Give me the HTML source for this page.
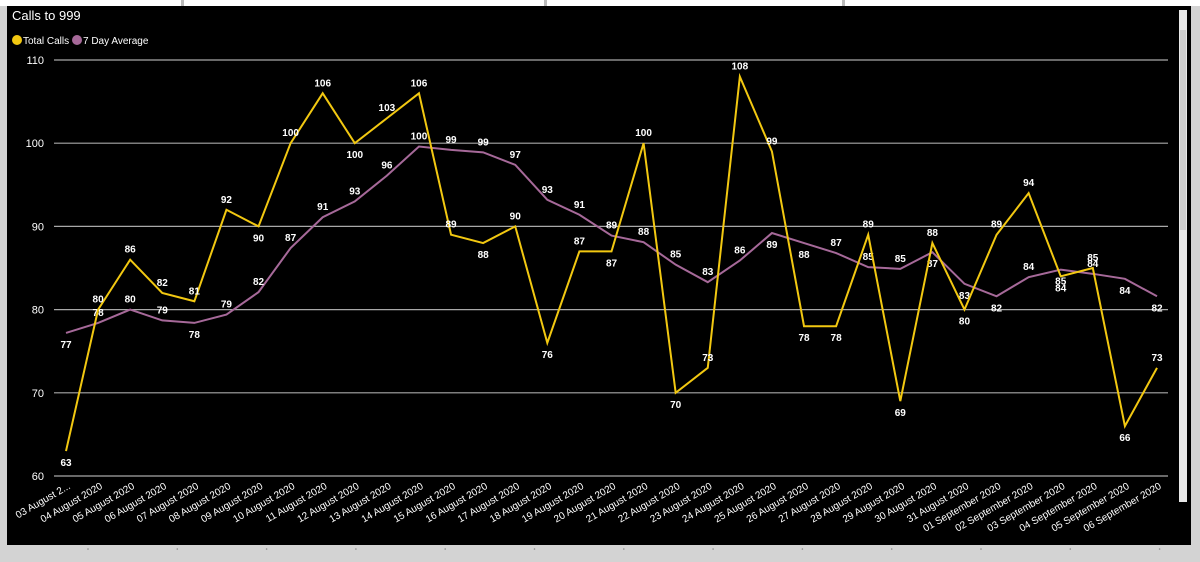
<!DOCTYPE html>
<html><head><meta charset="utf-8"><style>
body{margin:0;width:1200px;height:562px;overflow:hidden;background:#d3d3d3;font-family:"Liberation Sans",sans-serif}
svg{display:block}
</style></head><body>
<svg width="1200" height="562">
<rect x="0" y="0" width="1200" height="6" fill="#fff"/>
<rect x="181" y="0" width="3" height="6" fill="#bbb"/>
<rect x="544" y="0" width="3" height="6" fill="#bbb"/>
<rect x="842" y="0" width="3" height="6" fill="#bbb"/>
<rect x="7" y="6" width="1184" height="539" fill="#000"/>
<rect x="1179" y="10" width="8" height="492" fill="#e8e8e8"/>
<rect x="1180" y="30" width="6" height="200" fill="#cfcfcf"/>
<text x="12" y="20" fill="#fff" font-size="13">Calls to 999</text>
<circle cx="17" cy="40" r="5" fill="#f2c811"/>
<text x="23" y="44" fill="#fff" font-size="10">Total Calls</text>
<circle cx="77" cy="40" r="5" fill="#a66999"/>
<text x="83" y="44" fill="#fff" font-size="10">7 Day Average</text>
<g id="plot"></g>
</svg>
<script>
const categories=["03 August 2...","04 August 2020","05 August 2020","06 August 2020","07 August 2020","08 August 2020","09 August 2020","10 August 2020","11 August 2020","12 August 2020","13 August 2020","14 August 2020","15 August 2020","16 August 2020","17 August 2020","18 August 2020","19 August 2020","20 August 2020","21 August 2020","22 August 2020","23 August 2020","24 August 2020","25 August 2020","26 August 2020","27 August 2020","28 August 2020","29 August 2020","30 August 2020","31 August 2020","01 September 2020","02 September 2020","03 September 2020","04 September 2020","05 September 2020","06 September 2020"];
const totalCalls=[63,80,86,82,81,92,90,100,106,100,103,106,89,88,90,76,87,87,100,70,73,108,99,78,78,89,69,88,80,89,94,84,85,66,73];
const avgCalls=[77.2,78.4,80,78.7,78.4,79.4,82.1,87.4,91.1,93,96.1,99.6,99.2,98.9,97.4,93.2,91.4,88.9,88.1,85.4,83.3,85.9,89.2,88,86.8,85.1,84.9,86.9,83.1,81.6,83.9,84.8,84.3,83.7,81.6];
const totalPos="baaaaabaabaaababababaaabbababaababa";
const avgPos="baaabaaaaaaaaaaaaaaaaabbaaabbbababbab";
const yTicks=[60,70,80,90,100,110];
const ns="http://www.w3.org/2000/svg";
const g=document.getElementById('plot');
const X=i=>66+i*(1157-66)/(categories.length-1);
const Y=v=>476-(v-60)*(476-60)/50;
function mk(t,a){const e=document.createElementNS(ns,t);for(const k in a)e.setAttribute(k,a[k]);g.appendChild(e);return e;}
yTicks.forEach(v=>{
 const l=mk('line',{x1:54,x2:1168,y1:Y(v),y2:Y(v),stroke:'#a8a8a8','stroke-width':1.2});
 
 
 const t=mk('text',{x:44,y:Y(v)+4,fill:'#fff','font-size':11,'text-anchor':'end'});t.textContent=v;
 
 
});
categories.forEach((c,i)=>{
 const x=X(i)+5,y=488;
 const t=mk('text',{x:x,y:y,fill:'#fff','font-size':10,'text-anchor':'end',transform:`rotate(-30 ${x} ${y})`});t.textContent=c;
 
 
});
function series(vals,col,name,pos){
 const p=mk('polyline',{points:vals.map((v,i)=>X(i)+','+Y(v)).join(' '),fill:'none',stroke:col,'stroke-width':2});
 
 
 vals.forEach((v,i)=>{
  const up=pos[i]==='a';
  const t=mk('text',{x:X(i),y:up?Y(v)-7:Y(v)+15,fill:'#fff','font-size':10,'font-weight':'bold','text-anchor':'middle'});
  t.textContent=Math.round(v);
  
  
 });
}
series(avgCalls,'#a66999','avg',avgPos);
series(totalCalls,'#f2c811','total',totalPos);
for(let i=0;i<13;i++){const d=mk('circle',{cx:88+i*89.3,cy:549,r:0.8,fill:'#888'});
 
 }
</script>
</body></html>
